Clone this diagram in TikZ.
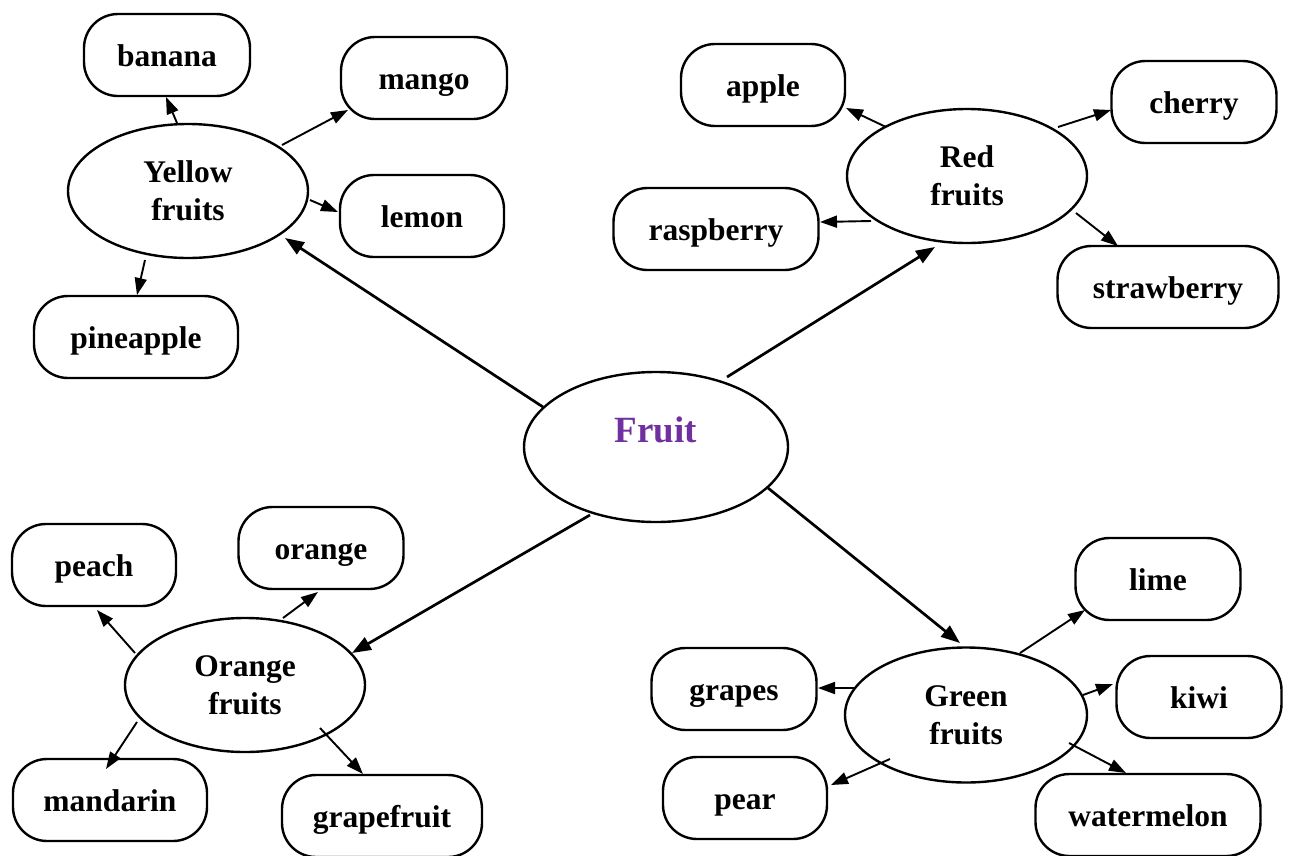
\documentclass[tikz,border=0pt]{standalone}
\usepackage{fontspec}
\setmainfont{Liberation Serif}
\usetikzlibrary{shapes.geometric,arrows.meta,calc}
\definecolor{fruitpurple}{HTML}{7030A0}
\begin{document}
\begin{tikzpicture}[x=1pt,y=-1pt,
  fbox/.style={draw, line width=2.4pt, rounded corners=34pt, minimum height=82pt, inner sep=0pt,
    text height=23pt, text depth=0pt, font=\fontsize{31.5}{37.8}\selectfont\bfseries},
  fell/.style={draw, ellipse, line width=2.4pt, minimum width=240pt, minimum height=134pt, inner sep=0pt,
    align=center, font=\fontsize{31.5}{37.8}\selectfont\bfseries},
  mainarr/.style={line width=2.7pt, -{Triangle[length=19pt,width=14pt]}},
  subarr/.style={line width=1.9pt, -{Triangle[length=17pt,width=12pt]}}]
\useasboundingbox (0,0) rectangle (1291,855);

% central
\node[draw, ellipse, line width=2.4pt, minimum width=264pt, minimum height=150pt, inner sep=0pt,
  text height=20pt, text depth=30pt, text=fruitpurple,
  font=\fontsize{37}{44}\selectfont\bfseries] (fruit) at (656,447) {Fruit};

% category ellipses
\node[fell] (Y) at (188,191) {Yellow\\fruits};
\node[fell] (R) at (967,176) {Red\\fruits};
\node[fell] (O) at (245,685) {Orange\\fruits};
\node[fell, minimum width=242pt, minimum height=135pt] (G) at (966,715) {Green\\fruits};

% yellow boxes
\node[fbox, minimum width=166pt] (banana) at (167,55) {banana};
\node[fbox, minimum width=166pt] (mango) at (424,78) {mango};
\node[fbox, minimum width=164pt] (lemon) at (422,216) {lemon};
\node[fbox, minimum width=204pt] (pineapple) at (136,337) {pineapple};
% red boxes
\node[fbox, minimum width=164pt] (apple) at (763,85) {apple};
\node[fbox, minimum width=165pt] (cherry) at (1194,102) {cherry};
\node[fbox, minimum width=205pt] (raspberry) at (716,229) {raspberry};
\node[fbox, minimum width=221pt] (strawberry) at (1168,287) {strawberry};
% orange boxes
\node[fbox, minimum width=164pt] (peach) at (94,565) {peach};
\node[fbox, minimum width=165pt] (orange) at (321,548) {orange};
\node[fbox, minimum width=194pt] (mandarin) at (110,800) {mandarin};
\node[fbox, minimum width=200pt] (grapefruit) at (382,816) {grapefruit};
% green boxes
\node[fbox, minimum width=165pt] (grapes) at (734,689) {grapes};
\node[fbox, minimum width=164pt] (pear) at (745,798) {pear};
\node[fbox, minimum width=165pt] (lime) at (1158,579) {lime};
\node[fbox, minimum width=165pt] (kiwi) at (1199,697) {kiwi};
\node[fbox, minimum width=225pt] (watermelon) at (1148,815) {watermelon};

% main arrows
\draw[mainarr] ($(fruit)+(-113,-40)$) -- ($(Y)+(97,47)$);
\draw[mainarr] ($(fruit)+(71,-70)$) -- ($(R)+(-32,71)$);
\draw[mainarr] ($(fruit)+(-66,68)$) -- ($(O)+(107,-32)$);
\draw[mainarr] ($(fruit)+(112,41)$) -- ($(G)+(-6,-72)$);

% yellow
\draw[subarr] ($(Y)+(-11,-68)$) -- ($(banana)+(-1,42)$);
\draw[subarr] ($(Y)+(94,-46)$) -- ($(mango)+(-76,32)$);
\draw[subarr] ($(Y)+(122,9)$) -- ($(lemon)+(-84,-4)$);
\draw[subarr] ($(Y)+(-43,69)$) -- ($(pineapple)+(1,-42)$);
% red
\draw[subarr] ($(R)+(-81,-49)$) -- ($(apple)+(83,23)$);
\draw[subarr] ($(R)+(91,-49)$) -- ($(cherry)+(-83,8)$);
\draw[subarr] ($(R)+(-96,45)$) -- ($(raspberry)+(104,-7)$);
\draw[subarr] ($(R)+(109,37)$) -- ($(strawberry)+(-50,-41)$);
% orange
\draw[subarr] ($(O)+(-110,-32)$) -- ($(peach)+(3,45)$);
\draw[subarr] ($(O)+(38,-67)$) -- ($(orange)+(-3,44)$);
\draw[subarr] ($(O)+(-108,37)$) -- ($(mandarin)+(-4,-31)$);
\draw[subarr] ($(O)+(75,43)$) -- ($(grapefruit)+(-19,-42)$);
% green
\draw[subarr] ($(G)+(54,-62)$) -- ($(lime)+(-73,31)$);
\draw[subarr] ($(G)+(117,-20)$) -- ($(kiwi)+(-86,-13)$);
\draw[subarr] ($(G)+(-111,-27)$) -- ($(grapes)+(84,-1)$);
\draw[subarr] ($(G)+(-76,44)$) -- ($(pear)+(86,-13)$);
\draw[subarr] ($(G)+(103,28)$) -- ($(watermelon)+(-22,-42)$);
\end{tikzpicture}
\end{document}
